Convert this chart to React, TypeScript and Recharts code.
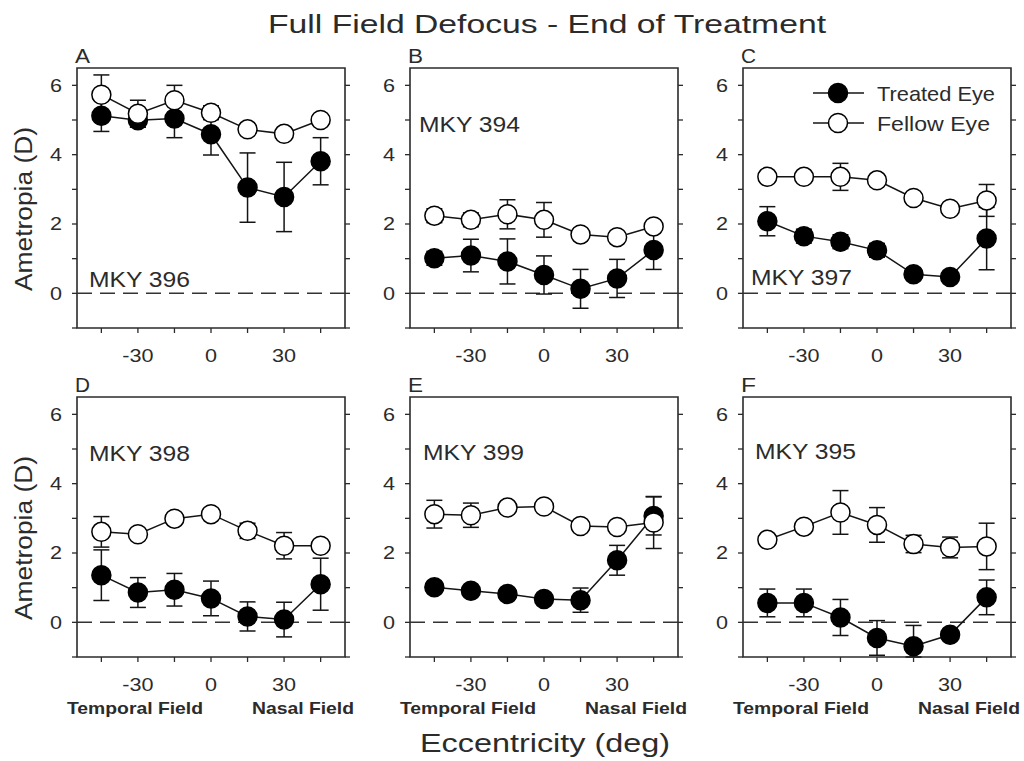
import React from 'react'
import { ComposedChart, Line, XAxis, YAxis, ErrorBar, ReferenceLine, ReferenceArea } from 'recharts'

const ECCENTRICITY = [-45, -30, -15, 0, 15, 30, 45]
const X_TICKS = [-45, -30, -15, 0, 15, 30, 45]
const X_LABELS = [-30, 0, 30]
const Y_TICKS = [-1, 0, 1, 2, 3, 4, 5, 6]
const Y_LABELS = [0, 2, 4, 6]

// MKY 396
const A_TREATED = [5.12, 4.99, 5.04, 4.59, 3.05, 2.78, 3.81]
const A_TREATED_SE = [0.45, 0.2, 0.55, 0.6, 1.0, 1.0, 0.68]
const A_FELLOW = [5.73, 5.18, 5.57, 5.21, 4.73, 4.6, 5.0]
const A_FELLOW_SE = [0.57, 0.39, 0.43, 0.2, 0.15, 0.15, 0.15]

// MKY 394
const B_TREATED = [1.01, 1.09, 0.92, 0.53, 0.13, 0.43, 1.25]
const B_TREATED_SE = [0.2, 0.47, 0.65, 0.55, 0.56, 0.55, 0.56]
const B_FELLOW = [2.24, 2.12, 2.28, 2.12, 1.7, 1.62, 1.93]
const B_FELLOW_SE = [0.2, 0.2, 0.42, 0.5, 0.15, 0.15, 0.15]

// MKY 397
const C_TREATED = [2.08, 1.65, 1.49, 1.24, 0.55, 0.47, 1.58]
const C_TREATED_SE = [0.42, 0.2, 0.2, 0.2, 0.15, 0.15, 0.9]
const C_FELLOW = [3.36, 3.36, 3.36, 3.26, 2.75, 2.44, 2.68]
const C_FELLOW_SE = [0.15, 0.15, 0.39, 0.15, 0.15, 0.15, 0.46]

// MKY 398
const D_TREATED = [1.36, 0.86, 0.94, 0.69, 0.17, 0.08, 1.1]
const D_TREATED_SE = [0.73, 0.43, 0.47, 0.5, 0.42, 0.5, 0.75]
const D_FELLOW = [2.61, 2.54, 2.99, 3.12, 2.64, 2.21, 2.21]
const D_FELLOW_SE = [0.44, 0.15, 0.15, 0.15, 0.22, 0.38, 0.15]

// MKY 399
const E_TREATED = [1.01, 0.91, 0.82, 0.67, 0.64, 1.79, 3.07]
const E_TREATED_SE = [0.15, 0.15, 0.15, 0.15, 0.35, 0.43, 0.55]
const E_FELLOW = [3.12, 3.09, 3.31, 3.34, 2.78, 2.75, 2.88]
const E_FELLOW_SE = [0.4, 0.35, 0.15, 0.15, 0.15, 0.15, 0.75]

// MKY 395 (lower whisker at +15 runs off the axis floor, so it stops at -1)
const F_TREATED = [0.56, 0.56, 0.14, -0.45, -0.69, -0.36, 0.72]
const F_TREATED_SE: (number | [number, number])[] = [0.4, 0.4, 0.52, 0.5, [0.31, 0.6], 0.15, 0.5]
const F_FELLOW = [2.38, 2.76, 3.17, 2.81, 2.26, 2.16, 2.19]
const F_FELLOW_SE = [0.15, 0.15, 0.63, 0.5, 0.25, 0.3, 0.67]

const FONT = '"Liberation Sans", Arial, Helvetica, sans-serif'
const INK = '#2b2b2b'
const LINE = '#141414'

// plot frame geometry
const COL_X = [77, 410, 743]
const ROW_Y = [68, 397]
const PW = 268
const PH = 260
const ML = 70
const MR = 20
const MT = 10
const MB = 50

const PANELS = [
  { letter: 'A', tag: 'MKY 396', col: 0, row: 0, tagDx: 12, tagDy: 219, treated: A_TREATED, treatedSe: A_TREATED_SE, fellow: A_FELLOW, fellowSe: A_FELLOW_SE },
  { letter: 'B', tag: 'MKY 394', col: 1, row: 0, tagDx: 9, tagDy: 64, treated: B_TREATED, treatedSe: B_TREATED_SE, fellow: B_FELLOW, fellowSe: B_FELLOW_SE },
  { letter: 'C', tag: 'MKY 397', col: 2, row: 0, tagDx: 8, tagDy: 217, treated: C_TREATED, treatedSe: C_TREATED_SE, fellow: C_FELLOW, fellowSe: C_FELLOW_SE },
  { letter: 'D', tag: 'MKY 398', col: 0, row: 1, tagDx: 12, tagDy: 64, treated: D_TREATED, treatedSe: D_TREATED_SE, fellow: D_FELLOW, fellowSe: D_FELLOW_SE },
  { letter: 'E', tag: 'MKY 399', col: 1, row: 1, tagDx: 13, tagDy: 63, treated: E_TREATED, treatedSe: E_TREATED_SE, fellow: E_FELLOW, fellowSe: E_FELLOW_SE },
  { letter: 'F', tag: 'MKY 395', col: 2, row: 1, tagDx: 12, tagDy: 62, treated: F_TREATED, treatedSe: F_TREATED_SE, fellow: F_FELLOW, fellowSe: F_FELLOW_SE },
]

// the figure's lettering is a wide sans, so labels get stretched horizontally
function XTick(props: any) {
  const { x, y, payload } = props
  if (!X_LABELS.includes(payload.value)) return <g />
  return (
    <text transform={`translate(${x},${y}) scale(1.2,1)`} textAnchor="middle" dy="0.71em"
      fontSize={18} fill={INK} fontFamily={FONT}>
      {payload.value}
    </text>
  )
}

function YTick(props: any) {
  const { x, y, payload } = props
  if (!Y_LABELS.includes(payload.value)) return <g />
  return (
    <text transform={`translate(${x},${y}) scale(1.2,1)`} textAnchor="end" dy="0.36em"
      fontSize={18} fill={INK} fontFamily={FONT}>
      {payload.value}
    </text>
  )
}

function Panel({ p }: { p: (typeof PANELS)[number] }) {
  const data = ECCENTRICITY.map((x, i) => ({
    x,
    treated: p.treated[i],
    treatedSe: p.treatedSe[i],
    fellow: p.fellow[i],
    fellowSe: p.fellowSe[i],
  }))
  const tickLine = { stroke: INK, strokeWidth: 1.3 }

  return (
    <div style={{ position: 'absolute', left: COL_X[p.col] - ML, top: ROW_Y[p.row] - MT }}>
      <ComposedChart width={ML + PW + MR} height={MT + PH + MB} data={data}
        margin={{ top: MT, right: 0, bottom: 0, left: 0 }}>
        <XAxis dataKey="x" type="number" domain={[-55, 55]} ticks={X_TICKS} interval={0}
          height={MB} axisLine={false} tickLine={tickLine} tickSize={5} tickMargin={16}
          tick={(t: any) => <XTick {...t} />} allowDataOverflow />
        <YAxis yAxisId="l" type="number" domain={[-1, 6.5]} ticks={Y_TICKS} interval={0}
          width={ML} axisLine={false} tickLine={tickLine} tickSize={5} tickMargin={10}
          tick={(t: any) => <YTick {...t} />} allowDataOverflow />
        <YAxis yAxisId="r" orientation="right" type="number" domain={[-1, 6.5]} ticks={Y_TICKS}
          interval={0} width={MR} axisLine={false} tickLine={tickLine} tickSize={5}
          tickFormatter={() => ''} allowDataOverflow />
        <ReferenceArea yAxisId="l" x1={-55} x2={55} y1={-1} y2={6.5} fill="none"
          stroke={INK} strokeWidth={1.6} />
        <ReferenceLine yAxisId="l" y={0} stroke="#333" strokeWidth={1.5} strokeDasharray="15 8" />
        <Line yAxisId="l" dataKey="treated" name="Treated Eye" stroke={LINE} strokeWidth={1.5}
          dot={{ r: 9.5, fill: '#000', stroke: '#000', strokeWidth: 1.5 }} activeDot={false}
          isAnimationActive={false}>
          <ErrorBar dataKey="treatedSe" direction="y" width={8} stroke={LINE} strokeWidth={1.5} />
        </Line>
        <Line yAxisId="l" dataKey="fellow" name="Fellow Eye" stroke={LINE} strokeWidth={1.5}
          dot={{ r: 9.5, fill: '#fff', stroke: '#000', strokeWidth: 1.5 }} activeDot={false}
          isAnimationActive={false}>
          <ErrorBar dataKey="fellowSe" direction="y" width={8} stroke={LINE} strokeWidth={1.5} />
        </Line>
      </ComposedChart>
    </div>
  )
}

function Labels() {
  const txt = { fill: INK, fontFamily: FONT }
  const stretch = 'spacingAndGlyphs' as const
  return (
    <svg width={1024} height={761} style={{ position: 'absolute', left: 0, top: 0, pointerEvents: 'none' }}>
      <text x={268} y={33} fontSize={25} textLength={558} lengthAdjust={stretch} {...txt}>
        Full Field Defocus - End of Treatment
      </text>
      <text x={420} y={752} fontSize={26} textLength={250} lengthAdjust={stretch} {...txt}>
        Eccentricity (deg)
      </text>
      {ROW_Y.map((y0) => (
        <text key={y0} transform={`translate(32,${y0 + 223}) rotate(-90)`} fontSize={23}
          textLength={164} lengthAdjust={stretch} {...txt}>
          Ametropia (D)
        </text>
      ))}
      {PANELS.map((p) => {
        const x0 = COL_X[p.col]
        const y0 = ROW_Y[p.row]
        return (
          <g key={p.letter}>
            <text x={x0 - 2} y={y0 - 5} fontSize={20} textLength={15} lengthAdjust={stretch} {...txt}>
              {p.letter}
            </text>
            <text x={x0 + p.tagDx} y={y0 + p.tagDy} fontSize={22} textLength={101} lengthAdjust={stretch} {...txt}>
              {p.tag}
            </text>
            {p.row === 1 && (
              <>
                <text x={x0 - 10} y={714} fontSize={17} fontWeight="bold" textLength={136} lengthAdjust={stretch} {...txt}>
                  Temporal Field
                </text>
                <text x={x0 + 175} y={714} fontSize={17} fontWeight="bold" textLength={102} lengthAdjust={stretch} {...txt}>
                  Nasal Field
                </text>
              </>
            )}
          </g>
        )
      })}
      {/* series key */}
      <line x1={813} x2={864} y1={93} y2={93} stroke={LINE} strokeWidth={1.5} />
      <circle cx={838} cy={93} r={9.5} fill="#000" stroke="#000" strokeWidth={1.5} />
      <text x={877} y={101} fontSize={21} textLength={118} lengthAdjust={stretch} {...txt}>Treated Eye</text>
      <line x1={813} x2={864} y1={123} y2={123} stroke={LINE} strokeWidth={1.5} />
      <circle cx={838} cy={123} r={9.5} fill="#fff" stroke="#000" strokeWidth={1.5} />
      <text x={877} y={131} fontSize={21} textLength={113} lengthAdjust={stretch} {...txt}>Fellow Eye</text>
    </svg>
  )
}

export default function App() {
  return (
    <div style={{ position: 'absolute', left: 0, top: 0, width: 1024, height: 761, background: '#fff', fontFamily: FONT }}>
      {PANELS.map((p) => (
        <Panel key={p.letter} p={p} />
      ))}
      <Labels />
    </div>
  )
}
